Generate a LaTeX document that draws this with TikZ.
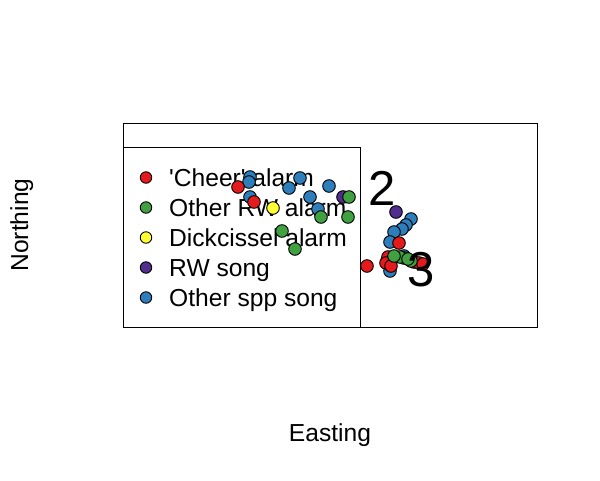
\documentclass[tikz,border=0pt]{standalone}
\usepackage{fontspec}
\setmainfont{Liberation Sans}
\definecolor{cRed}{HTML}{E41A1C}
\definecolor{cGreen}{HTML}{41A040}
\definecolor{cYellow}{HTML}{FFFF33}
\definecolor{cPurple}{HTML}{512D8E}
\definecolor{cBlue}{HTML}{2E7EBB}
\tikzset{
  frame/.style={draw=black, line width=1pt},
  pt/.style={circle, draw=black, line width=0.9pt, minimum size=12.6pt, inner sep=0pt},
  legpt/.style={circle, draw=black, line width=0.9pt, minimum size=11.5pt, inner sep=0pt},
  legtxt/.style={anchor=base west, inner sep=0pt, font=\fontsize{24.6}{29}\selectfont},
  axlab/.style={anchor=base, inner sep=0pt, font=\fontsize{24.6}{29}\selectfont},
  bignum/.style={anchor=base, inner sep=0pt, font=\fontsize{49}{58}\selectfont}
}
\newcommand{\myp}[3]{\node[pt, fill=#3] at (#1,#2) {};}
\begin{document}
\begin{tikzpicture}[x=1pt, y=-1pt]
\useasboundingbox (0,0) rectangle (600,480);
% plot frame
\node[frame, minimum width=414pt, minimum height=203.5pt, anchor=north west, inner sep=0pt] (plotbox) at (123,123) {};
% legend box
\node[frame, fill=white, minimum width=237pt, minimum height=179.5pt, anchor=south west, inner sep=0pt] (legbox) at (plotbox.south west) {};
% legend entries
\node[legpt, fill=cRed]    (l1) at (146,177.5) {};
\node[legpt, fill=cGreen]  (l2) at (146,207.5) {};
\node[legpt, fill=cYellow] (l3) at (146,237.5) {};
\node[legpt, fill=cPurple] (l4) at (146,267.5) {};
\node[legpt, fill=cBlue]   (l5) at (146,297.5) {};
\node[legtxt] (t1) at (169,186.2) {\textquotesingle Cheer\textquotesingle\ alarm};
\node[legtxt] (t2) at (169,216.2) {Other RW alarm};
\node[legtxt] (t3) at (169,246.2) {Dickcissel alarm};
\node[legtxt] (t4) at (169,276.2) {RW song};
\node[legtxt] (t5) at (169,306.2) {Other spp song};
% points, left group
\myp{250}{177}{cBlue}
\myp{249}{182}{cBlue}
\myp{238}{187}{cRed}
\myp{250}{197}{cBlue}
\myp{254}{202}{cRed}
\myp{273}{208}{cYellow}
\myp{289}{188}{cBlue}
\myp{300}{178}{cBlue}
\myp{329}{186}{cBlue}
\myp{310}{197}{cBlue}
\myp{318}{209}{cBlue}
\myp{321}{217}{cGreen}
\myp{343}{197}{cPurple}
\myp{349}{197}{cGreen}
\myp{348}{217}{cGreen}
\myp{282}{231}{cGreen}
\myp{295}{249}{cGreen}
\myp{367}{266}{cRed}
% points, right cluster
\myp{396}{212}{cPurple}
\myp{411}{219}{cBlue}
\myp{406}{225}{cBlue}
\myp{402}{229}{cBlue}
\myp{394}{232}{cBlue}
\myp{390}{242}{cBlue}
\myp{399}{243}{cRed}
\myp{390}{271}{cBlue}
\myp{387}{261}{cPurple}
\myp{388}{257}{cRed}
\myp{386}{263}{cRed}
\myp{391}{266}{cRed}
\myp{414}{262}{cRed}
\myp{419}{263}{cRed}
\myp{423}{264}{cRed}
\myp{404}{256}{cBlue}
\myp{411}{261}{cGreen}
\myp{404}{258}{cGreen}
\myp{400}{257}{cGreen}
\myp{394}{256}{cGreen}
\myp{408}{259}{cGreen}
% labels
\node[bignum] (n2) at (381.7,205.8) {2};
\node[bignum] (n3) at (421,286.5) {3};
\node[axlab] (xlab) at (330,441.7) {Easting};
\node[axlab, rotate=90] (ylab) at (28,225) {Northing};
\end{tikzpicture}
\end{document}
